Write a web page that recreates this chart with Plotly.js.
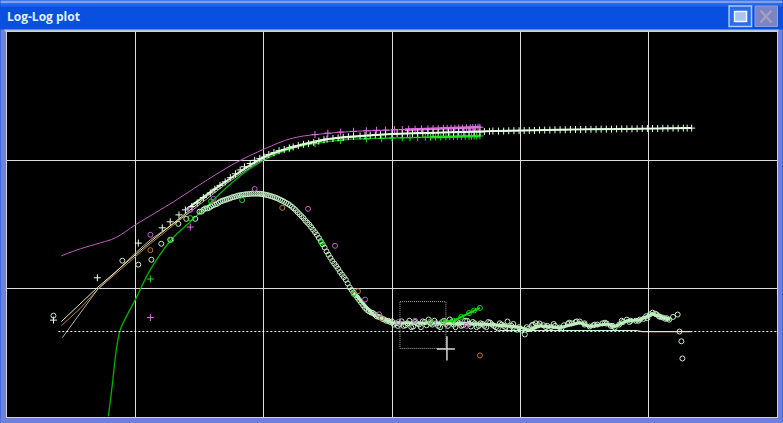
<!DOCTYPE html>
<html><head><meta charset="utf-8">
<script src="https://cdn.plot.ly/plotly-3.0.1.min.js"></script>
<style>html,body{margin:0;padding:0;background:#0a50e0;overflow:hidden}#c{width:783px;height:423px}</style>
</head><body><div id="c"></div>
<script>
// All series are log10(frequency), log10(value).
const chartTitle = 'Log-Log plot';

const magLineX = [-2.576,-2.428,-2.272,-2.156,-2,-1.844,-1.704,-1.572,-1.44,-1.222,-0.996,-0.77,-0.482,-0.249,0,0.685];
const magLineY = [0.256,0.311,0.357,0.396,0.497,0.591,0.676,0.762,0.847,0.979,1.088,1.174,1.212,1.228,1.236,1.259];
const greenLineX = [-2.21,-2.179,-2.148,-2.117,-2.062,-2,-1.883,-1.72,-1.572,-1.416,-1.222,-0.996,-0.77,-0.405,0,0.685];
const greenLineY = [-0.995,-0.746,-0.474,-0.319,-0.202,-0.085,0.148,0.381,0.521,0.668,0.847,1.003,1.096,1.158,1.174,1.189];
const tanLineX = [-2.576,-2.296,-1.883,-1.572,-1.284,-0.996,-0.77,-0.482,0,0.685];
const tanLineY = [-0.256,0.008,0.365,0.614,0.847,1.026,1.111,1.166,1.205,1.228];
const orangeLineX = [-2.576,-2.43,-2.296,-1.883,-1.572];
const orangeLineY = [-0.288,-0.155,-0.008,0.35,0.6];
const grayLineX = [-2.568,-2.43,-2.296,-1.988,-1.883,-1.572,-1.284,-0.996];
const grayLineY = [-0.381,-0.19,-0.008,0.288,0.381,0.598,0.824,1.018];

const plusX = [-2.638,-2.296,-1.977,-1.79,-1.728,-1.66,-1.61,-1.56,-1.518,-1.47,-1.416,-1.38,-1.34,-1.3,-1.26,-1.22,-1.183,-1.15,-1.105,-1.07,-1.03,-0.996,-0.96,-0.92,-0.88,-0.84,-0.8,-0.77,-0.73,-0.69,-0.65,-0.61,-0.57,-0.53,-0.506,-0.46,-0.42,-0.38,-0.34,-0.3,-0.249,-0.21,-0.17,-0.13,-0.09,-0.05,0,0.04,0.08,0.12,0.16,0.2,0.24,0.28,0.32,0.36,0.4,0.44,0.48,0.52,0.56,0.6,0.64,0.685,0.72,0.76,0.786,0.83,0.87,0.91,0.95,0.99,1.03,1.07,1.11,1.15,1.19,1.23,1.27,1.31,1.35,1.39,1.43,1.47,1.51,1.55,1.59,1.63,1.67,1.71,1.75,1.79,1.83,1.87,1.91,1.95,1.99,2.03,2.07,2.11,2.15,2.19,2.23,2.27,2.3,2.335];
const plusY = [-0.245,0.085,0.355,0.474,0.521,0.575,0.614,0.64,0.668,0.71,0.746,0.775,0.805,0.832,0.865,0.895,0.925,0.95,0.975,1,1.015,1.026,1.045,1.06,1.075,1.085,1.097,1.104,1.115,1.125,1.13,1.14,1.15,1.16,1.166,1.17,1.175,1.18,1.184,1.187,1.19,1.193,1.196,1.198,1.2,1.203,1.205,1.207,1.208,1.21,1.21,1.212,1.213,1.215,1.215,1.216,1.217,1.218,1.218,1.22,1.22,1.221,1.221,1.22,1.224,1.226,1.228,1.228,1.228,1.23,1.231,1.231,1.232,1.233,1.233,1.236,1.236,1.236,1.238,1.238,1.238,1.24,1.24,1.24,1.241,1.242,1.242,1.243,1.243,1.243,1.245,1.245,1.245,1.245,1.246,1.248,1.248,1.248,1.248,1.25,1.25,1.25,1.25,1.251,1.251,1.251];
const plateauX = [-1.6,-1.3,-0.996,-0.77,-0.5,-0.25,0,0.4,0.786,1.3,1.8,2.335];
const plateauY = [0.62,0.832,1.026,1.104,1.166,1.19,1.205,1.217,1.228,1.238,1.245,1.251];
const magPlusX = [-1.883,-1.572,-0.6,-0.5,-0.4,-0.3,-0.2,-0.12,-0.05,0.02,0.08,0.13,0.18,0.23,0.28,0.32,0.36,0.4,0.43,0.46,0.49,0.52,0.55,0.58,0.61,0.63,0.65,0.67,0.685];
const magPlusY = [-0.225,0.48,1.2,1.212,1.22,1.226,1.23,1.234,1.236,1.24,1.24,1.243,1.243,1.245,1.245,1.247,1.247,1.25,1.25,1.25,1.25,1.252,1.252,1.254,1.254,1.256,1.256,1.258,1.258];
const magBandX = [0.1,0.4,0.69];
const magBandY = [1.238,1.25,1.26];
const greenPlusX = [-1.883,-0.8,-0.6,-0.4,-0.2,-0.08,0,0.08,0.14,0.2,0.26,0.3,0.34,0.38,0.42,0.45,0.48,0.51,0.54,0.57,0.6,0.62,0.64,0.66,0.685];
const greenPlusY = [0.075,1.09,1.13,1.155,1.166,1.17,1.174,1.175,1.176,1.178,1.18,1.18,1.182,1.182,1.184,1.184,1.185,1.186,1.186,1.187,1.187,1.188,1.188,1.189,1.19];
const greenBandX = [0.3,0.5,0.69];
const greenBandY = [1.18,1.186,1.19];

const circleX = [-2.638,-2.101,-1.977,-1.875,-1.798,-1.728,-1.665,-1.603,-1.533,-1.5,-1.47,-1.44,-1.41,-1.38,-1.35,-1.32,-1.29,-1.26,-1.23,-1.2,-1.17,-1.14,-1.11,-1.08,-1.05,-1.02,-0.99,-0.96,-0.93,-0.9,-0.87,-0.84,-0.81,-0.78,-0.75,-0.72,-0.69,-0.66,-0.63,-0.6,-0.57,-0.54,-0.51,-0.48,-0.45,-0.42,-0.39,-0.36,-0.33,-0.3,-0.27,-0.24,-0.21,-0.18,-0.15,-0.12,-0.09,-0.06,-0.03,0,0.03,0.06,0.09,0.12,0.15,0.18,0.21,0.24,0.27,0.3,0.33,0.36,0.39,0.42,0.45,0.48,0.51,0.54,0.57,0.6,0.63,0.66,0.69,0.72,0.75,0.78,0.81,0.84,0.87,0.9,0.93,0.96,0.99,1.035,1.06,1.09,1.12,1.15,1.18,1.21,1.24,1.27,1.307,1.34,1.37,1.4,1.43,1.463,1.5,1.54,1.57,1.6,1.64,1.673,1.705,1.735,1.77,1.8,1.83,1.86,1.9,1.93,1.96,1.99,2.03,2.06,2.09,2.11,2.14,2.16,2.19,2.226,2.24,2.255,2.263];
const circleY = [-0.21,0.218,0.187,0.225,0.35,0.381,0.505,0.544,0.544,0.6,0.615,0.625,0.64,0.655,0.67,0.685,0.695,0.705,0.715,0.725,0.73,0.735,0.738,0.74,0.74,0.738,0.733,0.726,0.717,0.706,0.692,0.677,0.66,0.638,0.612,0.58,0.55,0.515,0.48,0.44,0.395,0.345,0.29,0.24,0.195,0.155,0.11,0.07,0.01,-0.03,-0.07,-0.11,-0.15,-0.175,-0.19,-0.215,-0.225,-0.24,-0.25,-0.255,-0.27,-0.275,-0.29,-0.27,-0.3,-0.26,-0.28,-0.255,-0.285,-0.27,-0.25,-0.29,-0.26,-0.275,-0.24,-0.28,-0.262,-0.29,-0.25,-0.275,-0.26,-0.3,-0.27,-0.29,-0.26,-0.28,-0.3,-0.27,-0.29,-0.256,-0.29,-0.31,-0.3,-0.357,-0.315,-0.285,-0.27,-0.272,-0.285,-0.29,-0.3,-0.29,-0.303,-0.285,-0.275,-0.27,-0.26,-0.256,-0.27,-0.295,-0.285,-0.28,-0.27,-0.272,-0.29,-0.303,-0.28,-0.26,-0.241,-0.25,-0.25,-0.241,-0.235,-0.23,-0.187,-0.2,-0.22,-0.225,-0.23,-0.241,-0.22,-0.202,-0.334,-0.41,-0.544];
const circle2X = [-1.485,-1.455,-1.425,-1.395,-1.365,-1.335,-1.305,-1.275,-1.245,-1.215,-1.185,-1.155,-1.125,-1.095,-1.065,-1.035,-1.005,-0.975,-0.945,-0.915,-0.885,-0.855,-0.825,-0.795,-0.765,-0.735,-0.705,-0.675,-0.645,-0.615,-0.585,-0.555,-0.525,-0.495,-0.465,-0.435,-0.405,-0.375,-0.345,-0.315,-0.285,-0.255,-0.225,-0.195,-0.165,-0.135,-0.105,-0.075,-0.045,-0.015,0.015,0.045,0.075,0.105,0.135,0.165,0.195,0.225,0.255,0.285,0.315,0.345,0.375,0.405,0.435,0.465,0.495,0.525,0.555,0.585,0.615,0.645,0.675,0.705,0.735,0.765,0.795,0.825,0.855,0.885,0.915,0.945,0.975,1.01,1.05,1.1,1.14,1.2,1.26,1.32,1.38,1.44,1.5,1.58,1.66,1.72,1.79,1.85,1.92,1.98,2.01,2.05,2.08,2.13];
const circle2Y = [0.6,0.625,0.63,0.65,0.66,0.68,0.69,0.7,0.712,0.72,0.728,0.733,0.737,0.74,0.74,0.74,0.736,0.73,0.722,0.712,0.7,0.685,0.668,0.65,0.625,0.595,0.565,0.53,0.5,0.46,0.42,0.37,0.32,0.265,0.215,0.175,0.13,0.09,0.04,-0.01,-0.05,-0.09,-0.13,-0.165,-0.185,-0.2,-0.22,-0.235,-0.25,-0.26,-0.28,-0.29,-0.255,-0.285,-0.25,-0.295,-0.27,-0.3,-0.26,-0.24,-0.28,-0.27,-0.3,-0.25,-0.29,-0.26,-0.3,-0.27,-0.285,-0.25,-0.295,-0.27,-0.29,-0.275,-0.3,-0.265,-0.29,-0.31,-0.28,-0.3,-0.31,-0.275,-0.32,-0.325,-0.3,-0.28,-0.285,-0.3,-0.275,-0.31,-0.265,-0.255,-0.28,-0.28,-0.265,-0.29,-0.25,-0.26,-0.25,-0.215,-0.2,-0.195,-0.215,-0.235];
const bandX = [-0.3,-0.15,0,0.2,0.4,0.69,0.85,0.996,1.074,1.15,1.307,1.463,1.54,1.673,1.735,1.83,1.93,2.03,2.11,2.17];
const bandY = [-0.03,-0.2,-0.265,-0.27,-0.27,-0.275,-0.285,-0.3,-0.325,-0.29,-0.305,-0.265,-0.295,-0.275,-0.295,-0.25,-0.245,-0.195,-0.225,-0.24];
const magCircleX = [-1.883,-1.572,-1.39,-1.07,-0.654,-0.444,-0.21,-0.1,0.05,0.18,0.32,0.58];
const magCircleY = [0.42,0.614,0.70,0.777,0.622,0.334,-0.085,-0.2,-0.26,-0.25,-0.27,-0.29];
const orangeCircleX = [-1.883,-0.855,-0.265,-0.08,0.685];
const orangeCircleY = [0.30,0.63,-0.02,-0.23,-0.52];
const greenCircleX = [-1.72,-1.572,-1.41,-1.168,-0.55,-0.3,0.3,0.4,0.48,0.54,0.6,0.64,0.685];
const greenCircleY = [0.381,0.55,0.68,0.69,0.36,-0.04,-0.255,-0.255,-0.25,-0.22,-0.19,-0.17,-0.15];

const refLineX = [-2.6,3];
const refLineY = [-0.334,-0.334];
const flatLineX = [0.84,1.9,1.95,2.335];
const flatLineY = [-0.326,-0.326,-0.334,-0.334];
const boxX = [0.062,0.42,0.42,0.062,0.062];
const boxY = [-0.101,-0.101,-0.466,-0.466,-0.101];
const crossHX = [0.35,0.49];
const crossHY = [-0.47,-0.47];
const crossVX = [0.428,0.428];
const crossVY = [-0.37,-0.56];

const up = a => a.map(v => Math.pow(10, v));
function line(x, y, color, width, dash, shape) {
  return {x: up(x), y: up(y), type: 'scatter', mode: 'lines', hoverinfo: 'skip',
          line: {color, width: width || 1, dash: dash || 'solid', shape: shape || 'linear'}};
}
function pts(x, y, color, symbol, size) {
  return {x: up(x), y: up(y), type: 'scatter', mode: 'markers', hoverinfo: 'skip',
          marker: {color, symbol, size, line: {color, width: 1}}};
}
const traces = [
  line(magLineX, magLineY, '#c060c0', 1, null, 'spline'),
  line(greenLineX, greenLineY, '#00b000', 1.3, null, 'spline'),
  line(orangeLineX, orangeLineY, '#b08040'),
  line(grayLineX, grayLineY, '#b0b0b0'),
  line(tanLineX, tanLineY, '#f0e8a0', 1),
  line(plateauX, plateauY, '#d0f0c8', 2, null, 'spline'),
  line(magBandX, magBandY, '#e070e0', 2.5),
  line(greenBandX, greenBandY, '#20e020', 2.5),
  pts(greenPlusX, greenPlusY, '#20e020', 'cross-thin-open', 5),
  pts(magPlusX, magPlusY, '#e070e0', 'cross-thin-open', 5),
  pts(plusX, plusY, '#e8ffe8', 'cross-thin-open', 5),
  line(bandX, bandY, '#b4f0b4', 3),
  pts(circle2X, circle2Y, '#c0eac0', 'circle-open', 5),
  pts(circleX, circleY, '#c8ecc8', 'circle-open', 5),
  pts(magCircleX, magCircleY, '#c060c0', 'circle-open', 5),
  pts(orangeCircleX, orangeCircleY, '#c07830', 'circle-open', 5),
  line(greenCircleX.slice(7), greenCircleY.slice(7), '#10e010', 2),
  pts(greenCircleX, greenCircleY, '#20d020', 'circle-open', 5),
  line(refLineX, refLineY, '#ffffff', 1, '2px,2px'),
  line(flatLineX, flatLineY, '#c8f0c8', 1.2),
  line(boxX, boxY, '#a8a8a8', 1, '1px,1px'),
  line(crossHX, crossHY, '#d8d8d8', 1.5),
  line(crossVX, crossVY, '#d8d8d8', 1.5)
];
const W = 783, H = 423, L = 6.5, R = 777.5, T = 31.5, B = 417;
const px = v => (v - L) / (R - L), py = v => (B - v) / (B - T);
function box(x0, y0, x1, y1, fill, lineColor, lw) {
  return {type: 'rect', xref: 'paper', yref: 'paper', x0: px(x0), x1: px(x1), y0: py(y0), y1: py(y1),
          fillcolor: fill || 'rgba(0,0,0,0)', line: {color: lineColor || 'rgba(0,0,0,0)', width: lw || 0}, layer: 'below'};
}
function seg(x0, y0, x1, y1, c, w) {
  return {type: 'line', xref: 'paper', yref: 'paper', x0: px(x0), x1: px(x1), y0: py(y0), y1: py(y1),
          line: {color: c, width: w}, layer: 'above'};
}
const chrome = [
  box(0, 0, 783, 3, '#7f9fe8'),
  box(0, 3, 783, 6, '#1f66ee'),
  box(0, 29, 6, 423, '#6f80dc'),
  box(778, 29, 783, 423, '#6f80dc'),
  box(0, 418, 783, 423, '#6f80dc'),
  box(4, 29, 779, 31, '#b8c4e0'),
  box(729.5, 5.5, 752, 26, '#2a6cf0', '#a8c8ff', 1.5),
  box(735, 11, 747, 21, '#a8c4f8', '#f4f8ff', 1.5),
  box(755.5, 5.5, 778, 26, '#7a86c4', '#8ea0d8', 1),
  seg(761, 10, 772, 22, '#a89cc0', 2.5),
  seg(772, 10, 761, 22, '#a89cc0', 2.5)
];
const axis = r => ({type: 'log', range: r, dtick: 1, showgrid: true, gridcolor: '#dcdcdc', gridwidth: 1,
  zeroline: false, showticklabels: false, ticks: '', showline: true, linecolor: '#d0d0d0', linewidth: 1, mirror: true});
const layout = {
  width: W, height: H,
  margin: {l: L, r: W - R, t: T, b: H - B, pad: 0},
  paper_bgcolor: '#0a50e0', plot_bgcolor: '#000000', showlegend: false,
  title: {text: '<b>' + chartTitle + '</b>', x: 7 / W, xanchor: 'left', xref: 'container', yref: 'container', y: 1 - 16.5 / H, yanchor: 'middle',
          font: {family: '"Open Sans", "Liberation Sans", sans-serif', size: 12, color: '#e4eeff'}, pad: {l: 0, r: 0, t: 0, b: 0}},
  xaxis: axis([-3, 3]), yaxis: axis([-1, 2]),
  shapes: chrome
};
Plotly.newPlot('c', traces, layout, {displayModeBar: false, staticPlot: true});
</script></body></html>
